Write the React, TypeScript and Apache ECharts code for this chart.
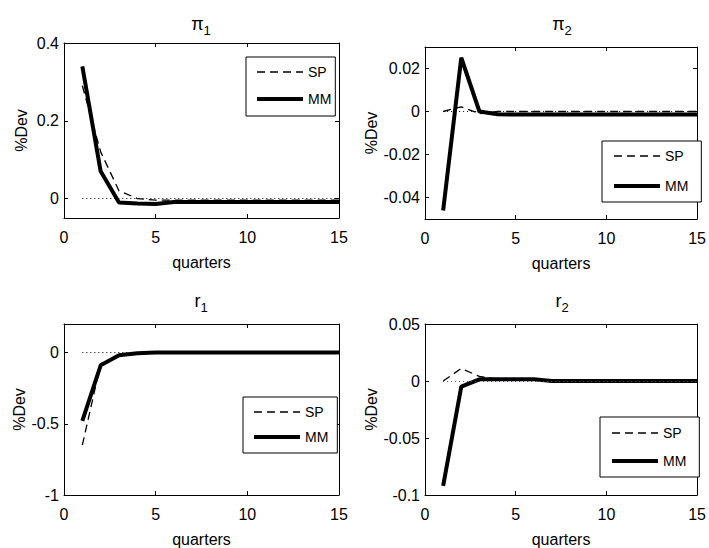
import React, { useEffect, useRef } from "react";
import * as echarts from "echarts";

const quarters = [1, 2, 3, 4, 5, 6, 7, 8, 9, 10, 11, 12, 13, 14, 15];
const legendNames = ["SP", "MM"];

const pi1SP = [0.29, 0.12, 0.02, 0.0, -0.004, -0.004, -0.004, -0.004, -0.004, -0.004, -0.004, -0.004, -0.004, -0.004, -0.004];
const pi1MM = [0.34, 0.07, -0.01, -0.013, -0.014, -0.009, -0.009, -0.009, -0.009, -0.009, -0.009, -0.009, -0.009, -0.009, -0.009];
const pi2SP = [0.0, 0.0022, -0.001, 0.0, 0.0, 0.0, 0.0, 0.0, 0.0, 0.0, 0.0, 0.0, 0.0, 0.0, 0.0];
const pi2MM = [-0.046, 0.025, 0.0, -0.0013, -0.0014, -0.0014, -0.0014, -0.0014, -0.0014, -0.0014, -0.0014, -0.0014, -0.0014, -0.0014, -0.0014];
const r1SP = [-0.65, -0.08, -0.02, -0.005, 0.0, 0.0, 0.0, 0.0, 0.0, 0.0, 0.0, 0.0, 0.0, 0.0, 0.0];
const r1MM = [-0.48, -0.09, -0.02, -0.006, 0.0, 0.0, 0.0, 0.0, 0.0, 0.0, 0.0, 0.0, 0.0, 0.0, 0.0];
const r2SP = [0.0, 0.011, 0.004, 0.0015, 0.0015, 0.001, 0.0005, 0.0003, 0.0003, 0.0003, 0.0003, 0.0003, 0.0003, 0.0003, 0.0003];
const r2MM = [-0.092, -0.005, 0.0015, 0.0015, 0.0015, 0.0015, 0.0, 0.0, 0.0, 0.0, 0.0, 0.0, 0.0, 0.0, 0.0];

const pi1Ticks = [0, 0.2, 0.4];
const pi2Ticks = [-0.04, -0.02, 0, 0.02];
const r1Ticks = [-1, -0.5, 0];
const r2Ticks = [-0.1, -0.05, 0, 0.05];

const titleMain = ["π", "π", "r", "r"];
const titleSub = ["1", "2", "1", "2"];
const xName = "quarters";
const yName = "%Dev";

const FONT = "'Liberation Sans', Arial, sans-serif";

const panels = [
  {
    grid: { left: 64, top: 43, width: 275, height: 175 },
    yMin: -0.05, yMax: 0.4, ticks: pi1Ticks, sp: pi1SP, mm: pi1MM, yGap: 35,
    legend: { left: 246, top: 57, itemGap: 13, padding: [8, 4, 10, 9] },
    zero: "#000", tx: 201, ty: 24,
  },
  {
    grid: { left: 425, top: 47, width: 275, height: 172 },
    yMin: -0.05, yMax: 0.03, ticks: pi2Ticks, sp: pi2SP, mm: pi2MM, yGap: 45,
    legend: { left: 602, top: 141, itemGap: 16, padding: [8, 13, 9, 10] },
    zero: "#000", tx: 562, ty: 24,
  },
  {
    grid: { left: 64, top: 324, width: 275, height: 171 },
    yMin: -1, yMax: 0.2, ticks: r1Ticks, sp: r1SP, mm: r1MM, yGap: 33,
    legend: { left: 243, top: 397, itemGap: 11, padding: [8, 9, 9, 9] },
    zero: "#000", tx: 201, ty: 301,
  },
  {
    grid: { left: 425, top: 324, width: 275, height: 171 },
    yMin: -0.1, yMax: 0.05, ticks: r2Ticks, sp: r2SP, mm: r2MM, yGap: 45,
    legend: { left: 600, top: 417, itemGap: 14, padding: [9, 13, 9, 10] },
    zero: "#3344ff", tx: 562, ty: 301,
  },
];

const labelStyle = { color: "#000", fontFamily: FONT, fontSize: 16 };

export default function App() {
  const ref = useRef<HTMLDivElement>(null);
  useEffect(() => {
    if (!ref.current) return;
    const chart = echarts.init(ref.current, null, { renderer: "svg" });
    const xAxis: any[] = [];
    const yAxis: any[] = [];
    const series: any[] = [];
    const legend: any[] = [];
    const graphic: any[] = [];
    panels.forEach((p, i) => {
      const axisLine = { show: true, onZero: false, lineStyle: { color: "#000", width: 1 } };
      const tick = { show: true, inside: true, length: 4, lineStyle: { color: "#000", width: 1 } };
      xAxis.push({
        type: "value", gridIndex: i, position: "bottom", min: 0, max: 15, interval: 5,
        axisLine, axisTick: tick, splitLine: { show: false },
        axisLabel: { ...labelStyle, margin: 11 },
        name: xName, nameLocation: "middle", nameGap: 36,
        nameTextStyle: { color: "#000", fontFamily: FONT, fontSize: 16 },
      });
      xAxis.push({
        type: "value", gridIndex: i, position: "top", min: 0, max: 15, interval: 5,
        axisLine, axisTick: tick, splitLine: { show: false }, axisLabel: { show: false },
      });
      yAxis.push({
        type: "value", gridIndex: i, position: "left", min: p.yMin, max: p.yMax,
        axisLine, axisTick: { ...tick, customValues: p.ticks }, splitLine: { show: false },
        axisLabel: { ...labelStyle, margin: 5, customValues: p.ticks, formatter: (v: number) => String(v) },
        name: yName, nameLocation: "middle", nameGap: p.yGap, nameRotate: 90,
        nameTextStyle: { color: "#000", fontFamily: FONT, fontSize: 16 },
      });
      yAxis.push({
        type: "value", gridIndex: i, position: "right", min: p.yMin, max: p.yMax,
        axisLine, axisTick: { ...tick, customValues: p.ticks }, splitLine: { show: false },
        axisLabel: { show: false },
      });
      series.push({
        type: "line", name: legendNames[0], xAxisIndex: 2 * i, yAxisIndex: 2 * i,
        data: quarters.map((q, k) => [q, p.sp[k]]),
        symbol: "none", lineStyle: { color: "#000", width: 1.3, type: [8, 5] },
        itemStyle: { color: "#000" },
        markLine: {
          silent: true, symbol: ["none", "none"], label: { show: false },
          lineStyle: { color: p.zero, width: 1, type: [1, 3] },
          data: [[{ coord: [quarters[0], 0] }, { coord: [quarters[quarters.length - 1], 0] }]],
        },
      });
      series.push({
        type: "line", name: legendNames[1], xAxisIndex: 2 * i, yAxisIndex: 2 * i,
        data: quarters.map((q, k) => [q, p.mm[k]]),
        symbol: "none", lineStyle: { color: "#000", width: 4 },
        itemStyle: { color: "#000" },
      });
      legend.push({
        left: p.legend.left, top: p.legend.top, orient: "vertical",
        data: [
          { name: legendNames[0], lineStyle: { width: 1.3, type: [8, 5] } },
          { name: legendNames[1], lineStyle: { width: 4 } },
        ],
        itemStyle: { opacity: 0, color: "rgba(0,0,0,0)", borderWidth: 0 },
        itemWidth: 46, itemHeight: 14, itemGap: p.legend.itemGap, padding: p.legend.padding,
        borderColor: "#000", borderWidth: 1, backgroundColor: "#fff", borderRadius: 0,
        selectedMode: false, textStyle: { color: "#000", fontFamily: FONT, fontSize: 14 },
      });
      graphic.push({
        type: "text", x: p.tx, y: p.ty,
        style: {
          text: `{a|${titleMain[i]}}{b|${titleSub[i]}}`,
          rich: {
            a: { fontSize: 18, fontFamily: FONT, fill: "#000" },
            b: { fontSize: 13, fontFamily: FONT, fill: "#000", padding: [12, 0, 0, 0] },
          },
          align: "center", verticalAlign: "middle", fill: "#000",
        },
      });
    });
    chart.setOption({
      animation: false,
      backgroundColor: "#fff",
      grid: panels.map((p) => ({ ...p.grid, containLabel: false })),
      xAxis, yAxis, series, legend, graphic,
    });
    return () => chart.dispose();
  }, []);
  return <div ref={ref} style={{ position: "fixed", left: 0, top: 0, width: 709, height: 548 }} />;
}
